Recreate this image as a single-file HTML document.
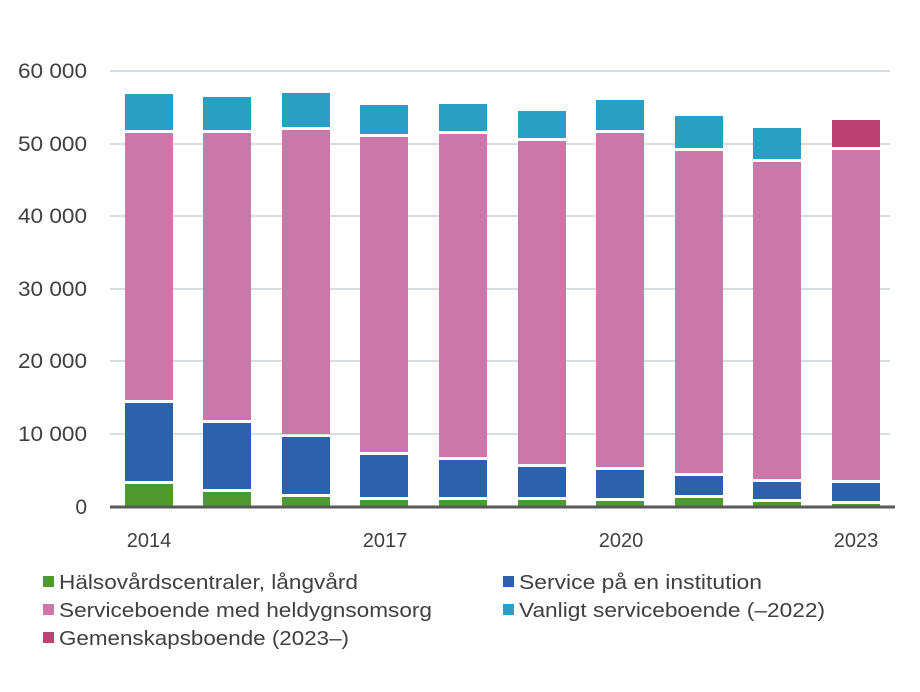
<!DOCTYPE html>
<html><head><meta charset="utf-8"><style>html,body{margin:0;padding:0;background:#fff}svg{display:block}</style></head>
<body>
<svg width="920" height="692" xmlns="http://www.w3.org/2000/svg" font-family="Liberation Sans, sans-serif" fill="#404040">
<g stroke="#d9dde0" stroke-width="2">
<line x1="110" x2="890" y1="71" y2="71"/><line x1="110" x2="890" y1="144" y2="144"/><line x1="110" x2="890" y1="216" y2="216"/><line x1="110" x2="890" y1="289" y2="289"/><line x1="110" x2="890" y1="361" y2="361"/><line x1="110" x2="890" y1="434" y2="434"/>
</g>
<g font-size="21" text-anchor="end">
<text x="87" y="78" textLength="69" lengthAdjust="spacingAndGlyphs">60 000</text><text x="87" y="151" textLength="69" lengthAdjust="spacingAndGlyphs">50 000</text><text x="87" y="223" textLength="69" lengthAdjust="spacingAndGlyphs">40 000</text><text x="87" y="296" textLength="69" lengthAdjust="spacingAndGlyphs">30 000</text><text x="87" y="368" textLength="69" lengthAdjust="spacingAndGlyphs">20 000</text><text x="87" y="441" textLength="69" lengthAdjust="spacingAndGlyphs">10 000</text><text x="87" y="514">0</text>
</g>
<g>
<rect x="125" y="94" width="48" height="36" fill="#29a0c3"/><rect x="125" y="133" width="48" height="267" fill="#cb77a9"/><rect x="125" y="403" width="48" height="78" fill="#2e61ab"/><rect x="125" y="484" width="48" height="23" fill="#4e9a2e"/>
<rect x="203" y="97" width="48" height="33" fill="#29a0c3"/><rect x="203" y="133" width="48" height="287" fill="#cb77a9"/><rect x="203" y="423" width="48" height="66" fill="#2e61ab"/><rect x="203" y="492" width="48" height="15" fill="#4e9a2e"/>
<rect x="282" y="93" width="48" height="34" fill="#29a0c3"/><rect x="282" y="130" width="48" height="304" fill="#cb77a9"/><rect x="282" y="437" width="48" height="57" fill="#2e61ab"/><rect x="282" y="497" width="48" height="10" fill="#4e9a2e"/>
<rect x="360" y="105" width="48" height="29" fill="#29a0c3"/><rect x="360" y="137" width="48" height="315" fill="#cb77a9"/><rect x="360" y="455" width="48" height="42" fill="#2e61ab"/><rect x="360" y="500" width="48" height="7" fill="#4e9a2e"/>
<rect x="439" y="104" width="48" height="27" fill="#29a0c3"/><rect x="439" y="134" width="48" height="323" fill="#cb77a9"/><rect x="439" y="460" width="48" height="37" fill="#2e61ab"/><rect x="439" y="500" width="48" height="7" fill="#4e9a2e"/>
<rect x="518" y="111" width="48" height="27" fill="#29a0c3"/><rect x="518" y="141" width="48" height="323" fill="#cb77a9"/><rect x="518" y="467" width="48" height="30" fill="#2e61ab"/><rect x="518" y="500" width="48" height="7" fill="#4e9a2e"/>
<rect x="596" y="100" width="48" height="30" fill="#29a0c3"/><rect x="596" y="133" width="48" height="334" fill="#cb77a9"/><rect x="596" y="470" width="48" height="28" fill="#2e61ab"/><rect x="596" y="501" width="48" height="6" fill="#4e9a2e"/>
<rect x="675" y="116" width="48" height="32" fill="#29a0c3"/><rect x="675" y="151" width="48" height="322" fill="#cb77a9"/><rect x="675" y="476" width="48" height="19" fill="#2e61ab"/><rect x="675" y="498" width="48" height="9" fill="#4e9a2e"/>
<rect x="753" y="128" width="48" height="31" fill="#29a0c3"/><rect x="753" y="162" width="48" height="317" fill="#cb77a9"/><rect x="753" y="482" width="48" height="17" fill="#2e61ab"/><rect x="753" y="502" width="48" height="5" fill="#4e9a2e"/>
<rect x="832" y="120" width="48" height="27" fill="#be3f72"/><rect x="832" y="150" width="48" height="330" fill="#cb77a9"/><rect x="832" y="483" width="48" height="18" fill="#2e61ab"/><rect x="832" y="504" width="48" height="3" fill="#4e9a2e"/>
</g>
<line x1="110" x2="895" y1="507" y2="507" stroke="#595959" stroke-width="3"/>
<g font-size="20" text-anchor="middle">
<text x="149" y="547">2014</text><text x="385" y="547">2017</text><text x="621" y="547">2020</text><text x="856" y="547">2023</text>
</g>
<g font-size="20">
<rect x="43" y="576" width="11" height="11" fill="#4e9a2e"/><text x="59" y="589" textLength="299" lengthAdjust="spacingAndGlyphs">Hälsovårdscentraler, långvård</text>
<rect x="43" y="604" width="11" height="11" fill="#cb77a9"/><text x="59" y="617" textLength="373" lengthAdjust="spacingAndGlyphs">Serviceboende med heldygnsomsorg</text>
<rect x="43" y="632" width="11" height="11" fill="#be3f72"/><text x="59" y="645" textLength="290" lengthAdjust="spacingAndGlyphs">Gemenskapsboende (2023–)</text>
<rect x="503" y="576" width="11" height="11" fill="#2e61ab"/><text x="519" y="589" textLength="243" lengthAdjust="spacingAndGlyphs">Service på en institution</text>
<rect x="503" y="604" width="11" height="11" fill="#29a0c3"/><text x="519" y="617" textLength="306" lengthAdjust="spacingAndGlyphs">Vanligt serviceboende (–2022)</text>
</g>
</svg>
</body></html>
